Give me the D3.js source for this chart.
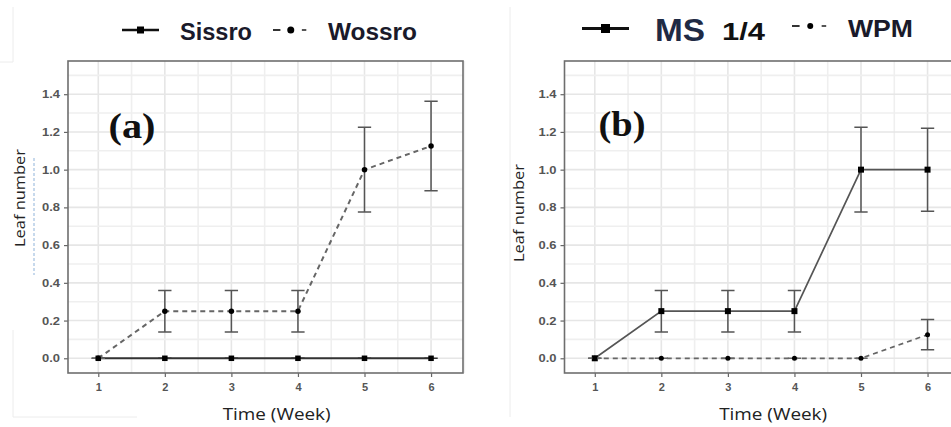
<!DOCTYPE html>
<html><head><meta charset="utf-8">
<script src="https://cdn.jsdelivr.net/npm/d3@7"></script>
<style>html,body{margin:0;padding:0;background:#fff;}svg{display:block;}</style>
</head><body>
<svg id="chart" width="951" height="427"></svg>
<script>
// ---- data ----
const weeks = [1, 2, 3, 4, 5, 6];
const xTicks = [1, 2, 3, 4, 5, 6];
const yTicks = [0, 0.2, 0.4, 0.6, 0.8, 1.0, 1.2, 1.4];
const sissro   = [0, 0, 0, 0, 0, 0];
const sissroSE = [0, 0, 0, 0, 0, 0];
const wossro   = [0, 0.25, 0.25, 0.25, 1.0, 1.125];
const wossroSE = [0, 0.11, 0.11, 0.11, 0.225, 0.237];
const ms       = [0, 0.25, 0.25, 0.25, 1.0, 1.0];
const msSE     = [0, 0.11, 0.11, 0.11, 0.225, 0.22];
const wpm      = [0, 0, 0, 0, 0, 0.125];
const wpmSE    = [0, 0, 0, 0, 0, 0.08];
const panelLabels = ["(a)", "(b)"];
const xTitle = "Time (Week)";
const yTitle = "Leaf number";

const svg = d3.select("#chart");
const F = "Liberation Sans, Arial, sans-serif";

// faint compositing artefacts from the source figure
const art = svg.append("g").attr("stroke", "#ececec").attr("stroke-width", 1).attr("fill", "none");
art.append("path").attr("d", "M13,7V62H0");
art.append("path").attr("d", "M510,7V417");
art.append("path").attr("d", "M13,330V417H137");
svg.append("line").attr("x1", 34).attr("x2", 34).attr("y1", 158).attr("y2", 275)
  .attr("stroke", "#8fb3da").attr("stroke-width", 1).attr("stroke-dasharray", "3,2");

function panel(opt) {
  const g = svg.append("g").attr("transform", `translate(${opt.dx},0)`);
  const x = d3.scaleLinear().domain([0.545, 6.48]).range([68, 463]);
  const y = d3.scaleLinear().domain([-0.078, 1.576]).range([373, 61]);
  const [x0, x1] = x.range(), [y0, y1] = y.range();

  // grid (minor + major)
  const gx = d3.range(1, 6.51, 0.5), gy = d3.range(0, 1.551, 0.1);
  g.append("g").selectAll("line").data(gx).join("line")
    .attr("x1", d => x(d)).attr("x2", d => x(d)).attr("y1", y1).attr("y2", y0)
    .attr("stroke", d => Number.isInteger(d) ? "#e6e6e6" : "#efefef").attr("stroke-width", 1.6);
  g.append("g").selectAll("line").data(gy).join("line")
    .attr("y1", d => y(d)).attr("y2", d => y(d)).attr("x1", x0).attr("x2", x1)
    .attr("stroke", d => Math.abs(Math.round(d * 10) % 2) === 0 ? "#e6e6e6" : "#efefef").attr("stroke-width", 1.6);

  // axes
  const ya = g.append("g").attr("transform", `translate(${x0},0)`)
    .call(d3.axisLeft(y).tickValues(yTicks).tickFormat(d3.format(".1f")).tickSize(4).tickPadding(4));
  const xa = g.append("g").attr("transform", `translate(0,${y0})`)
    .call(d3.axisBottom(x).tickValues(xTicks).tickFormat(d3.format("d")).tickSize(4).tickPadding(6));
  [ya, xa].forEach(a => {
    a.select(".domain").remove();
    a.selectAll(".tick line").attr("stroke", "#666").attr("stroke-width", 1.2);
    a.selectAll(".tick text").attr("fill", "#555").attr("font-family", F)
      .attr("font-size", 11).attr("font-weight", "bold");
  });
  ya.selectAll(".tick text").attr("textLength", 18).attr("lengthAdjust", "spacingAndGlyphs");

  // border
  g.append("rect").attr("x", x0).attr("y", y1).attr("width", x1 - x0).attr("height", y0 - y1)
    .attr("fill", "none").attr("stroke", "#6e6e6e").attr("stroke-width", 1.6);

  // titles
  g.append("text").attr("x", x(3.68)).attr("y", 420).attr("text-anchor", "middle")
    .attr("font-family", "Open Sans, sans-serif").attr("font-size", 17).attr("fill", "#222")
    .attr("textLength", 108).attr("lengthAdjust", "spacingAndGlyphs").text(xTitle);
  g.append("text").attr("transform", `translate(${opt.ylx},${opt.yly}) rotate(-90)`)
    .attr("text-anchor", "middle").attr("font-family", "Open Sans, sans-serif")
    .attr("font-size", 14).attr("fill", "#222")
    .attr("textLength", 98).attr("lengthAdjust", "spacingAndGlyphs").text(yTitle);
  g.append("text").attr("x", opt.lab[0]).attr("y", opt.lab[1]).attr("text-anchor", "middle")
    .attr("font-family", "Liberation Serif, Times New Roman, serif").attr("font-weight", "bold")
    .attr("font-size", 36).attr("fill", "#111").attr("textLength", 47)
    .attr("lengthAdjust", "spacingAndGlyphs").text(opt.label);

  // series
  const cw = 0.1;
  opt.series.forEach(s => {
    const pts = weeks.map((w, i) => ({ w, v: s.vals[i], se: s.se[i] }));
    const eb = g.append("g").attr("stroke", "#555").attr("stroke-width", 1.5).attr("fill", "none");
    eb.selectAll("path").data(pts).join("path")
      .attr("d", d => `M${x(d.w - cw)},${y(d.v + d.se)}H${x(d.w + cw)}M${x(d.w)},${y(d.v + d.se)}V${y(d.v - d.se)}M${x(d.w - cw)},${y(d.v - d.se)}H${x(d.w + cw)}`)
      .attr("stroke", d => d.se === 0 ? s.color : "#555");
    g.append("path").datum(pts)
      .attr("d", d3.line().x(d => x(d.w)).y(d => y(d.v)))
      .attr("fill", "none").attr("stroke", s.color).attr("stroke-width", s.lw)
      .attr("stroke-dasharray", s.dash ? "5,4" : null);
    if (s.shape === "square") {
      g.append("g").selectAll("rect").data(pts).join("rect")
        .attr("x", d => x(d.w) - s.ms / 2).attr("y", d => y(d.v) - s.ms / 2)
        .attr("width", s.ms).attr("height", s.ms).attr("fill", "#000");
    } else {
      g.append("g").selectAll("circle").data(pts).join("circle")
        .attr("cx", d => x(d.w)).attr("cy", d => y(d.v)).attr("r", s.ms / 2).attr("fill", "#000");
    }
  });
  return g;
}

// panel (a)
panel({
  dx: 0, label: panelLabels[0], lab: [132, 138], ylx: 25, yly: 198,
  series: [
    { vals: sissro, se: sissroSE, color: "#333", lw: 2, dash: false, shape: "square", ms: 5.5 },
    { vals: wossro, se: wossroSE, color: "#666", lw: 2, dash: true, shape: "circle", ms: 5.5 }
  ]
});
// panel (b)
panel({
  dx: 496.5, label: panelLabels[1], lab: [125.5, 136], ylx: 27.5, yly: 213,
  series: [
    { vals: ms, se: msSE, color: "#555", lw: 1.7, dash: false, shape: "square", ms: 6 },
    { vals: wpm, se: wpmSE, color: "#666", lw: 1.7, dash: true, shape: "circle", ms: 5 }
  ]
});

// legends
const L = svg.append("g");
function solidKey(x1, x2, yy, sz, lw) {
  L.append("line").attr("x1", x1).attr("x2", x2).attr("y1", yy).attr("y2", yy).attr("stroke", "#111").attr("stroke-width", lw);
  L.append("rect").attr("x", (x1 + x2) / 2 - sz / 2).attr("y", yy - sz / 2).attr("width", sz).attr("height", sz).attr("fill", "#000");
}
function dashKey(x1, x2, yy, r) {
  const w = x2 - x1;
  L.append("line").attr("x1", x1).attr("x2", x1 + w * 0.2).attr("y1", yy).attr("y2", yy).attr("stroke", "#333").attr("stroke-width", 2);
  L.append("circle").attr("cx", x1 + w * 0.48).attr("cy", yy).attr("r", r).attr("fill", "#000");
  L.append("line").attr("x1", x1 + w * 0.78).attr("x2", x1 + w * 0.9).attr("y1", yy).attr("y2", yy).attr("stroke", "#555").attr("stroke-width", 2);
}
function keyText(t, x, yy, size, len, weight, color) {
  L.append("text").attr("x", x).attr("y", yy).attr("font-family", F).attr("font-weight", weight)
    .attr("font-size", size).attr("fill", color).attr("textLength", len).attr("lengthAdjust", "spacingAndGlyphs").text(t);
}
solidKey(122, 159, 30, 7, 2.5);
keyText("Sissro", 180, 40, 23, 72, "bold", "#1a1a2a");
dashKey(273, 310, 30, 3.5);
keyText("Wossro", 328, 40, 23, 89, "bold", "#1a1a2a");

solidKey(582, 629, 28.5, 9, 3);
keyText("MS", 655, 41, 31, 50, "bold", "#1f2a44");
keyText("1/4", 722, 40, 24, 43, "bold", "#111");
dashKey(792, 830, 26, 3);
keyText("WPM", 848, 37, 23, 65, "bold", "#1a1a2a");
</script>
</body></html>
